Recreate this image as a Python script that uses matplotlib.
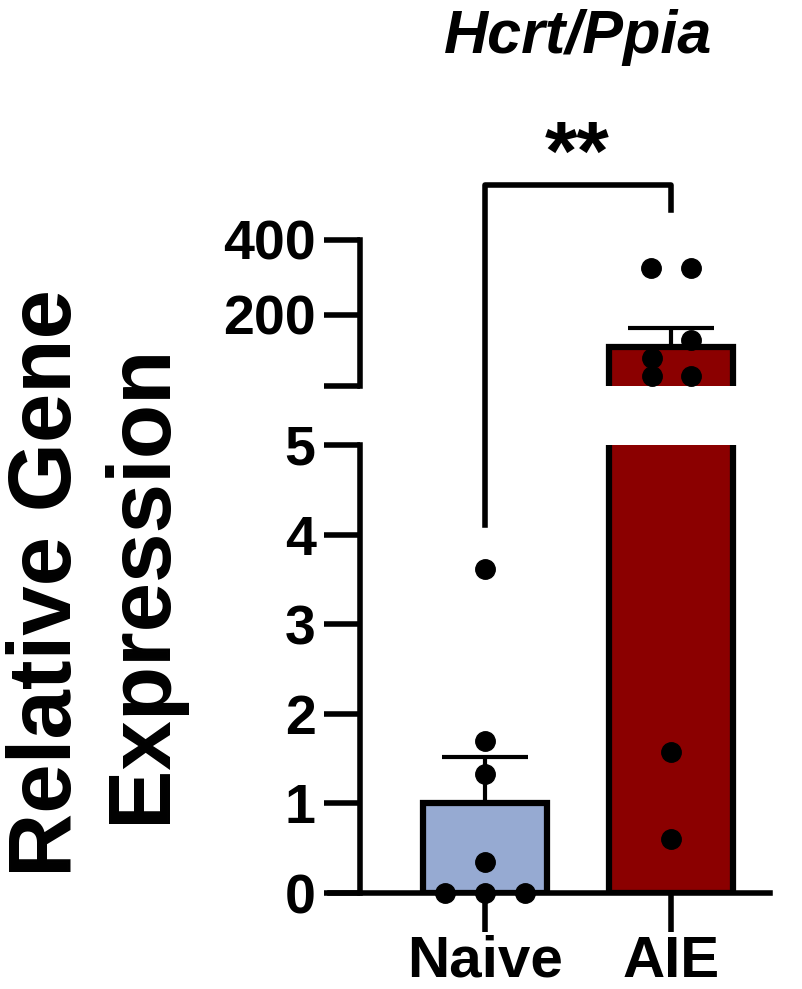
import matplotlib
matplotlib.use("Agg")
import matplotlib.pyplot as plt
from matplotlib.lines import Line2D
import numpy as np

plt.rcParams['font.family'] = ['Liberation Sans', 'DejaVu Sans']
plt.rcParams['font.weight'] = 'bold'

groups = ["Naive", "AIE"]
means = [1.0, 115.0]
sems = [0.52, 50.0]
colors = ["#96aad2", "#8b0000"]
naive_pts = [3.62, 1.7, 1.33, 0.35, 0.0, 0.0, 0.0]
naive_off = [0, 0, 0, 0, -0.215, 0, 0.215]
aie_pts = [325, 325, 133, 85, 37, 37, 1.57, 0.6]
aie_off = [-0.11, 0.11, 0.11, -0.1, -0.1, 0.11, 0, 0]

W, H = 802, 989
fig = plt.figure(figsize=(W/100, H/100), dpi=100)
def rect(l, r, top, bot):
    return [l/W, 1-bot/H, (r-l)/W, (bot-top)/H]

xlim = (-0.833, 1.532)
spx = -0.672
lw = 4.5
axl = fig.add_axes(rect(330, 770, 445, 893))
axu = fig.add_axes(rect(330, 770, 240, 386))
x = np.arange(2)
for ax, lo, hi in [(axl, 0, 5), (axu, 10, 400)]:
    idx = [i for i in range(2) if means[i] > lo]
    ax.bar([x[i] for i in idx], [means[i] for i in idx], width=0.667,
           color=[colors[i] for i in idx], edgecolor='black', linewidth=lw, zorder=2)
    ax.set_xlim(*xlim); ax.set_ylim(lo, hi)
    for s in ['top', 'right']:
        ax.spines[s].set_visible(False)
    ax.spines['left'].set_position(('data', spx))
    ax.spines['left'].set_linewidth(4)
    ax.tick_params(axis='y', width=4, length=26, labelsize=40, pad=6)
    for i in idx:
        m, e = means[i], sems[i]
        if m < hi:
            ax.errorbar(i, m, yerr=[[0], [e]], fmt='none', ecolor='black',
                        elinewidth=3, capsize=31, capthick=3, zorder=3)
    for vals, offs, i in [(naive_pts, naive_off, 0), (aie_pts, aie_off, 1)]:
        xs = [i + o for v, o in zip(vals, offs) if lo <= v <= hi]
        ys = [v for v in vals if lo <= v <= hi]
        ax.plot(xs, ys, 'o', color='black', ms=14, clip_on=False, zorder=4)
    for t in ax.get_yticklabels():
        t.set_fontweight('bold')

axl.set_yticks([0, 1, 2, 3, 4, 5])
axl.spines['bottom'].set_linewidth(4)
axl.set_xticks(x)
axl.set_xticklabels(groups, fontsize=42, fontweight='bold')
axl.tick_params(axis='x', width=4, length=28, pad=2)

axu.spines['bottom'].set_visible(False)
axu.set_xticks([])
axu.set_yticks([10, 200, 400])
axu.set_yticklabels(['', '200', '400'])

def fx(p): return p / W
def fy(p): return 1 - p / H
bx = [485, 485, 671, 671]; by = [525, 185, 185, 210]
fig.add_artist(Line2D([fx(v) for v in bx], [fy(v) for v in by], color='black', lw=4))
fig.text(fx(577), fy(158), "**", ha='center', va='center', fontsize=60, fontweight='bold')
fig.text(fx(578), fy(38), "Hcrt/Ppia", ha='center', va='center', fontsize=44,
         fontweight='bold', style='italic')
fig.text(fx(95), fy(583), "Relative Gene\nExpression", ha='center', va='center',
         rotation=90, fontsize=64, fontweight='bold', linespacing=1.15)

fig.savefig("out.png", dpi=100)
